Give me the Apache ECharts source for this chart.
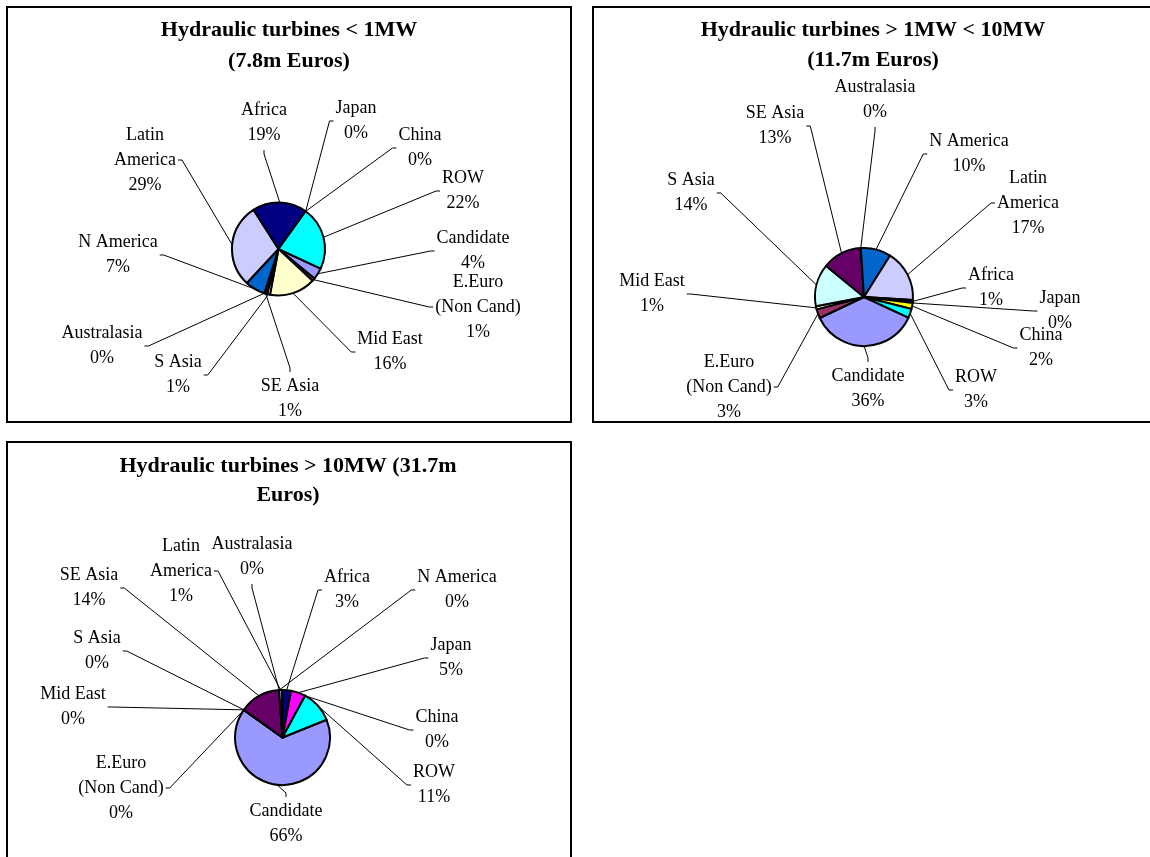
<!DOCTYPE html>
<html>
<head>
<meta charset="utf-8">
<title>Hydraulic turbines – market shares by region</title>
<script src="https://cdn.jsdelivr.net/npm/echarts@6/dist/echarts.min.js"></script>
<style>
  html, body { margin: 0; padding: 0; background: #ffffff; }
  #main { width: 1150px; height: 857px; }
</style>
</head>
<body>
<div id="main"></div>
<script>
// Regions, in the order the slices are drawn (clockwise)
const categories = [
  'Candidate', 'E.Euro\n(Non Cand)', 'Mid East', 'S Asia', 'SE Asia', 'Australasia',
  'N America', 'Latin\nAmerica', 'Africa', 'Japan', 'China', 'ROW'
];

// Market share (%) per region for each turbine size class
const sharesBelow1MW   = [4, 1, 16, 1, 1, 0, 7, 29, 19, 0, 0, 22];
const shares1to10MW    = [36, 3, 1, 14, 13, 0, 10, 17, 1, 0, 2, 3];
const sharesAbove10MW  = [66, 0, 0, 0, 14, 0, 0, 1, 3, 5, 0, 11];

const chartTitles = [
  'Hydraulic turbines < 1MW\n(7.8m Euros)',
  'Hydraulic turbines > 1MW < 10MW\n(11.7m Euros)',
  'Hydraulic turbines > 10MW (31.7m\nEuros)'
];

// Slice fill per region (same order as categories)
const palette = ['#9999ff', '#993366', '#ffffcc', '#ccffff', '#660066', '#ff8080',
                 '#0066cc', '#ccccff', '#000080', '#ff00ff', '#ffff00', '#00ffff'];

// Label block centres (px), one per region, per chart
const labelSpots = [
  [[473, 251], [478, 307], [390, 352], [178, 375], [290, 399], [102, 346],
   [118, 255], [145, 160], [264, 123], [356, 121], [420, 148], [463, 191]],
  [[868, 389], [729, 387], [652, 294], [691, 193], [775, 126], [875, 100],
   [969, 154], [1028, 203], [991, 288], [1060, 311], [1041, 348], [976, 390]],
  [[286, 824], [121, 788], [73, 707], [97, 651], [89, 588], [252, 557],
   [457, 590], [181, 571], [347, 590], [451, 658], [437, 730], [434, 785]]
];

// Side of each label block that its leader line attaches to
const labelSides = [
  ['l', 'l', 'l', 'r', 't', 'r', 'r', 'r', 'b', 'l', 'l', 'l'],
  ['t', 'r', 'r', 'r', 'r', 'b', 'l', 'l', 'l', 'l', 'l', 'l'],
  ['t', 'r', 'r', 'r', 'r', 'b', 'l', 'r', 'l', 'l', 'l', 'l']
];

const FONT = '"Liberation Serif", "Times New Roman", serif';
const HOOK = 4;   // short stub of the leader line next to the text
const GAP = 2;

const panels = [
  { values: sharesBelow1MW,  center: [278.5, 249], radius: 46.5, startAngle: -25,
    titleX: 289, titleTop: 15, titleLH: 31, box: [7, 7, 564, 415] },
  { values: shares1to10MW,   center: [864, 297], radius: 49, startAngle: -25,
    titleX: 873, titleTop: 15, titleLH: 30, box: [593, 7, 560, 415] },
  { values: sharesAbove10MW, center: [282.5, 737.5], radius: 47.5, startAngle: 22,
    titleX: 288, titleTop: 452, titleLH: 29, box: [7, 442, 564, 420] }
];

function leaderEnds(spot, side, w, h) {
  const [x, y] = spot;
  switch (side) {
    case 'l': return [[x - w / 2 - GAP - HOOK, y], [x - w / 2 - GAP, y]];
    case 'r': return [[x + w / 2 + GAP + HOOK, y], [x + w / 2 + GAP, y]];
    case 't': return [[x, y - h / 2 - GAP - HOOK], [x, y - h / 2 - GAP]];
    default:  return [[x, y + h / 2 + GAP + HOOK], [x, y + h / 2 + GAP]];
  }
}

const chart = echarts.init(document.getElementById('main'), null, { renderer: 'canvas' });

const option = {
  animation: false,
  backgroundColor: '#ffffff',
  title: panels.map((p, i) => ({
    text: chartTitles[i],
    left: p.titleX,
    top: p.titleTop,
    textAlign: 'center',
    padding: 0,
    itemGap: 0,
    textStyle: {
      fontFamily: FONT, fontWeight: 'bold', fontSize: 22,
      lineHeight: p.titleLH, color: '#000000'
    }
  })),
  graphic: panels.map(p => ({
    type: 'rect',
    silent: true,
    shape: { x: p.box[0], y: p.box[1], width: p.box[2], height: p.box[3] },
    style: { fill: 'none', stroke: '#000000', lineWidth: 2 }
  })),
  series: panels.map((p, i) => ({
    type: 'pie',
    center: p.center,
    radius: p.radius,
    startAngle: p.startAngle,
    clockwise: true,
    avoidLabelOverlap: false,
    emphasis: { disabled: true },
    data: categories.map((name, k) => ({
      name: name,
      value: p.values[k],
      itemStyle: { color: palette[k] }
    })),
    itemStyle: { borderColor: '#000000', borderWidth: 2 },
    label: {
      show: true,
      position: 'outside',
      formatter: q => q.name + '\n' + q.value + '%',
      fontFamily: FONT,
      fontSize: 18,
      lineHeight: 25,
      color: '#000000',
      align: 'center',
      overflow: 'none'
    },
    labelLine: {
      show: true,
      length: 10,
      length2: 0,
      smooth: false,
      lineStyle: { color: '#000000', width: 1 }
    },
    labelLayout: params => {
      const spot = labelSpots[i][params.dataIndex];
      const side = labelSides[i][params.dataIndex];
      const r = params.labelRect;
      const ends = leaderEnds(spot, side, r.width, r.height);
      const out = { x: spot[0], y: spot[1], align: 'center', verticalAlign: 'middle' };
      if (params.labelLinePoints && params.labelLinePoints.length) {
        out.labelLinePoints = [params.labelLinePoints[0], ends[0], ends[1]];
      }
      return out;
    }
  }))
};

chart.setOption(option);
</script>
</body>
</html>
